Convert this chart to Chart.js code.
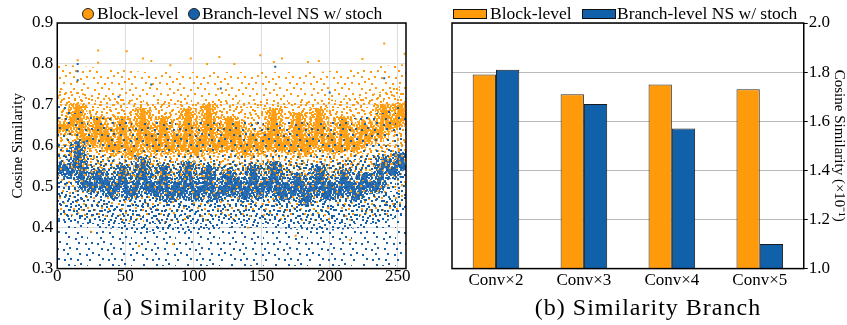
<!DOCTYPE html>
<html>
<head>
<meta charset="utf-8">
<script src="https://cdn.jsdelivr.net/npm/chart.js@4"></script>
<style>
body { margin: 0; background: #fff; width: 847px; height: 325px; position: relative; overflow: hidden; font-family: "Liberation Serif", serif; color: #000; }
#left { position: absolute; left: 0; top: 0; }
#right { position: absolute; left: 420px; top: 0; }
.leg { position: absolute; top: 5px; font-size: 17.5px; line-height: 17px; white-space: nowrap; }
.dot { position: absolute; top: 8px; width: 12px; height: 12px; border-radius: 50%; border: 1px solid #222; box-sizing: border-box; }
.box { position: absolute; top: 9px; width: 34px; height: 10px; border: 1.5px solid #111; box-sizing: border-box; }
.cap { position: absolute; top: 295px; font-size: 24px; line-height: 24px; letter-spacing: 1px; white-space: nowrap; transform: translateX(-50%); }
</style>
</head>
<body>
<canvas id="left" width="420" height="325"></canvas>
<canvas id="right" width="427" height="325"></canvas>

<div class="dot" style="left:82px;background:#ff9a0a"></div>
<div class="leg" style="left:97px">Block-level</div>
<div class="dot" style="left:188px;background:#1660aa"></div>
<div class="leg" style="left:202px">Branch-level NS w/ stoch</div>

<div class="box" style="left:453px;background:#ff9a0a"></div>
<div class="leg" style="left:490px">Block-level</div>
<div class="box" style="left:582px;background:#1060aa"></div>
<div class="leg" style="left:617px">Branch-level NS w/ stoch</div>

<div class="cap" style="left:209px">(a) Similarity Block</div>
<div class="cap" style="left:648px">(b) Similarity Branch</div>

<script>
// ---- (a) per-channel similarity, channel index 0..255 sampled every 3 ----
const channels = Array.from({ length: 86 }, (_, i) => i * 3);
const blockMid = [
    0.64, 0.65, 0.64, 0.65, 0.66, 0.70, 0.63, 0.61, 0.62, 0.60,
    0.67, 0.61, 0.64, 0.59, 0.60, 0.59, 0.67, 0.60, 0.58, 0.59,
    0.62, 0.69, 0.60, 0.63, 0.59, 0.60, 0.67, 0.60, 0.59, 0.63,
    0.60, 0.59, 0.69, 0.60, 0.58, 0.62, 0.60, 0.70, 0.61, 0.59,
    0.62, 0.60, 0.67, 0.59, 0.66, 0.60, 0.58, 0.61, 0.63, 0.59,
    0.60, 0.63, 0.59, 0.69, 0.61, 0.59, 0.62, 0.60, 0.59, 0.68,
    0.60, 0.58, 0.62, 0.60, 0.69, 0.61, 0.59, 0.63, 0.60, 0.59,
    0.67, 0.60, 0.62, 0.59, 0.61, 0.66, 0.61, 0.63, 0.64, 0.62,
    0.70, 0.64, 0.66, 0.65, 0.70, 0.66
];
const branchMid = [
    0.55, 0.54, 0.55, 0.53, 0.54, 0.61, 0.52, 0.50, 0.51, 0.49,
    0.54, 0.50, 0.52, 0.48, 0.49, 0.50, 0.55, 0.49, 0.48, 0.49,
    0.52, 0.57, 0.49, 0.51, 0.48, 0.49, 0.55, 0.48, 0.47, 0.51,
    0.48, 0.49, 0.56, 0.50, 0.47, 0.50, 0.49, 0.55, 0.49, 0.47,
    0.50, 0.48, 0.54, 0.48, 0.52, 0.49, 0.47, 0.50, 0.55, 0.49,
    0.48, 0.52, 0.49, 0.56, 0.50, 0.47, 0.51, 0.49, 0.48, 0.53,
    0.49, 0.46, 0.50, 0.49, 0.55, 0.50, 0.47, 0.51, 0.49, 0.48,
    0.54, 0.49, 0.51, 0.47, 0.49, 0.53, 0.50, 0.51, 0.49, 0.52,
    0.57, 0.54, 0.53, 0.55, 0.58, 0.54
];

// spread of the point clouds (upper / lower envelopes)
const envX = [0, 32, 64, 96, 128, 160, 192, 224, 256];
const blockOuterHi = [0.80, 0.79, 0.78, 0.78, 0.78, 0.78, 0.78, 0.79, 0.80];
const blockOuterLo = [0.43, 0.42, 0.41, 0.41, 0.42, 0.42, 0.41, 0.42, 0.44];
const blockInnerHi = [0.74, 0.72, 0.71, 0.71, 0.71, 0.71, 0.71, 0.72, 0.75];
const blockInnerLo = [0.55, 0.53, 0.52, 0.52, 0.53, 0.53, 0.52, 0.53, 0.56];
const branchOuterHi = [0.70, 0.67, 0.66, 0.66, 0.66, 0.66, 0.66, 0.67, 0.70];
const branchOuterLo = [0.30, 0.30, 0.30, 0.30, 0.30, 0.30, 0.30, 0.30, 0.30];
const branchInnerHi = [0.60, 0.57, 0.56, 0.56, 0.56, 0.56, 0.56, 0.57, 0.60];
const branchInnerLo = [0.42, 0.40, 0.39, 0.39, 0.40, 0.40, 0.39, 0.40, 0.43];

// single points standing out of the clouds
const blockOutX = [240, 30, 51, 15, 30, 63, 69, 98, 119, 149, 165, 159, 184, 192, 224, 255, 110, 130, 83, 25, 85, 140, 215, 175, 60];
const blockOutY = [0.85, 0.833, 0.831, 0.809, 0.803, 0.813, 0.807, 0.813, 0.817, 0.821, 0.813, 0.805, 0.805, 0.807, 0.812, 0.825, 0.80, 0.80, 0.797, 0.39, 0.36, 0.40, 0.37, 0.38, 0.355];
const branchOutX = [15, 15, 160, 15, 69, 120, 200, 240, 45];
const branchOutY = [0.80, 0.782, 0.793, 0.76, 0.75, 0.74, 0.73, 0.765, 0.72];

const xTicks = [0, 50, 100, 150, 200, 250];

// ---- (b) per-branch-depth similarity ----
const convLabels = ['Conv×2', 'Conv×3', 'Conv×4', 'Conv×5'];
const blockVals = [1.79, 1.71, 1.75, 1.73];
const branchVals = [1.81, 1.67, 1.57, 1.10];

const ORANGE = '#ff9a0a';
const BLUE = '#1660aa';
const serif = '"Liberation Serif", "Times New Roman", serif';

// speckle texture for the point clouds (quasi-uniform R2 layout inside a tile)
function speckle(color, w, h, n, start) {
    const c = document.createElement('canvas');
    c.width = w; c.height = h;
    const g = c.getContext('2d');
    g.fillStyle = color;
    for (let i = start; i < start + n; i++) {
        const u = (0.5 + i * 0.7548776662) % 1;
        const v = (0.5 + i * 0.5698402910) % 1;
        g.fillRect(Math.floor(u * w), Math.floor(v * h), 2, 2);
    }
    return g.createPattern(c, 'repeat');
}

const xy = (xs, ys) => xs.map((x, i) => ({ x: x, y: ys[i] }));

const frame = {
    id: 'frame',
    afterDraw(chart) {
        const a = chart.chartArea, ctx = chart.ctx;
        ctx.save();
        ctx.strokeStyle = '#000';
        ctx.lineWidth = 1.5;
        ctx.strokeRect(a.left, a.top, a.right - a.left, a.bottom - a.top);
        ctx.restore();
    }
};

const env = (data, pattern) => ({
    data: data,
    borderColor: 'transparent',
    borderWidth: 0,
    pointRadius: 0,
    backgroundColor: pattern || 'transparent',
    fill: pattern ? '+1' : false
});

const outliers = (data, color) => ({
    data: data,
    showLine: false,
    pointStyle: 'rect',
    pointRadius: 1.4,
    pointBorderWidth: 0,
    pointBackgroundColor: color
});

const band = (data, color, w) => ({
    data: data,
    borderColor: color,
    borderWidth: w,
    borderJoinStyle: 'bevel',
    pointRadius: 0,
    fill: false
});

new Chart(document.getElementById('left'), {
    type: 'line',
    data: {
        datasets: [
            outliers(xy(blockOutX, blockOutY), ORANGE),
            outliers(xy(branchOutX, branchOutY), BLUE),
            env(xy(envX, branchInnerHi), speckle(BLUE, 36, 32, 50, 300)),
            env(xy(envX, branchInnerLo)),
            env(xy(envX, branchOuterHi), speckle(BLUE, 44, 38, 36, 500)),
            env(xy(envX, branchOuterLo)),
            env(xy(envX, blockInnerHi), speckle(ORANGE, 40, 36, 60, 100)),
            env(xy(envX, blockInnerLo)),
            env(xy(envX, blockOuterHi), speckle(ORANGE, 48, 40, 44, 700)),
            env(xy(envX, blockOuterLo)),
            band(xy(channels, branchMid), '#2a6cb0', 4),
            band(xy(channels, branchMid), speckle('#2a6cb0', 24, 20, 80, 900), 15),
            band(xy(channels, blockMid), '#ffa21a', 4),
            band(xy(channels, blockMid), speckle('#ffa21a', 24, 20, 80, 1100), 17)
        ]
    },
    options: {
        responsive: false,
        animation: false,
        events: [],
        layout: { padding: { top: 23, right: 14, left: 9, bottom: 40 } },
        plugins: { legend: { display: false }, tooltip: { enabled: false } },
        scales: {
            x: {
                type: 'linear',
                min: 0, max: 256,
                afterBuildTicks: s => { s.ticks = xTicks.map(v => ({ value: v })); },
                grid: { color: '#dddddd', drawTicks: false },
                border: { display: false },
                ticks: { font: { family: serif, size: 17 }, color: '#000', padding: -2, maxRotation: 0 }
            },
            y: {
                min: 0.3, max: 0.9,
                grid: { color: '#dddddd', drawTicks: false },
                border: { display: false },
                ticks: { stepSize: 0.1, font: { family: serif, size: 17 }, color: '#000', padding: 4,
                    callback: v => v.toFixed(1) },
                title: { display: true, text: 'Cosine Similarity', font: { family: serif, size: 15 }, color: '#000', padding: { top: 0, bottom: 1 } }
            }
        }
    },
    plugins: [frame]
});

new Chart(document.getElementById('right'), {
    type: 'bar',
    data: {
        labels: convLabels,
        datasets: [
            { label: 'Block-level', data: blockVals, backgroundColor: '#ff9a0a', borderColor: '#2a2a2a', borderWidth: 1 },
            { label: 'Branch-level NS w/ stoch', data: branchVals, backgroundColor: '#1060aa', borderColor: '#1a1a1a', borderWidth: 1 }
        ]
    },
    options: {
        responsive: false,
        animation: false,
        events: [],
        categoryPercentage: 0.53,
        barPercentage: 1,
        layout: { padding: { top: 23, right: 0, left: 32, bottom: 32 } },
        plugins: { legend: { display: false }, tooltip: { enabled: false } },
        scales: {
            x: {
                grid: { display: false, drawTicks: false },
                border: { display: false },
                ticks: { font: { family: serif, size: 17 }, color: '#000', padding: 2 }
            },
            y: {
                position: 'right',
                min: 1.0, max: 2.0,
                grid: { color: '#bbbbbb', tickColor: '#000', tickLength: 4 },
                border: { display: false },
                ticks: { stepSize: 0.2, font: { family: serif, size: 17 }, color: '#000', padding: 1,
                    callback: v => v.toFixed(1) },
                title: { display: true, text: 'Cosine Similarity (×10⁻¹)', font: { family: serif, size: 15, lineHeight: 1 }, color: '#000', padding: { top: 1, bottom: 0 } }
            }
        }
    },
    plugins: [frame]
});
</script>
</body>
</html>
